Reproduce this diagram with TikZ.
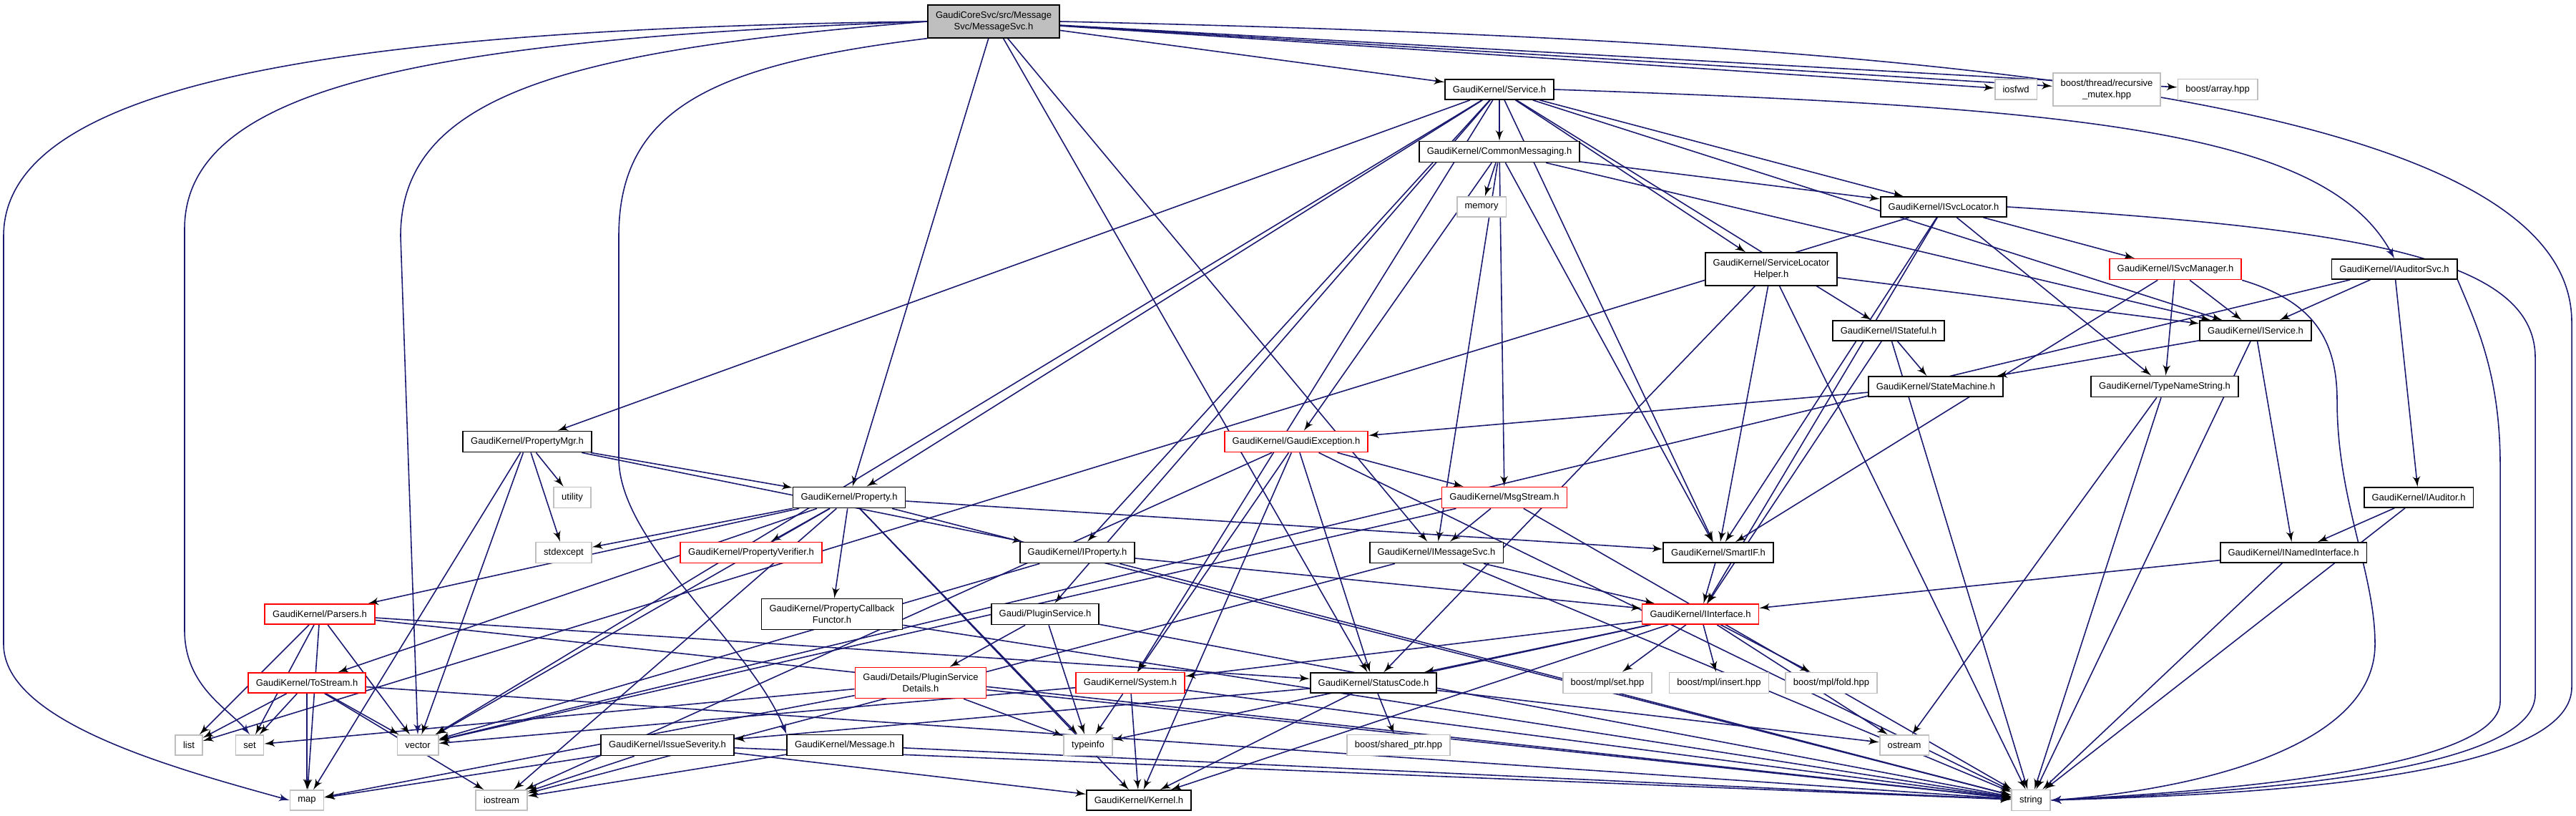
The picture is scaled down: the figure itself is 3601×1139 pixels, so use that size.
\documentclass[tikz,border=0pt]{standalone}
\usepackage{fontspec}
\setmainfont{Liberation Sans}
\usetikzlibrary{arrows,backgrounds}
\definecolor{edgeblue}{RGB}{25,25,112}
\definecolor{leafgray}{RGB}{191,191,191}
\begin{document}
\begin{tikzpicture}[x=0.01cm,y=-0.01cm]
		\tikzset{file/.style = {shape=rectangle,draw=black,fill=white,line width=0.5pt,inner xsep=3.1pt,inner ysep=2.4pt,minimum height=0.28cm,align=center,font=\fontsize{3.7pt}{4.7pt}\selectfont}}
		\tikzset{trunc/.style = {file,draw=red}}
		\tikzset{sys/.style = {file,draw=leafgray}}
		\tikzset{main/.style = {file,fill=leafgray}}
		\tikzset{edge/.style = {->,> = latex',draw=edgeblue,line width=0.45pt}}
		\useasboundingbox (0,0) rectangle (3601,1139);
		% header rows, top to bottom
		\node[main] (msgsvc) at (1389,30) {GaudiCoreSvc/src/Message\\Svc/MessageSvc.h};
		\node[sys] (iosfwd) at (2818,125) {iosfwd};
		\node[sys] (bthread) at (2945,125) {boost/thread/recursive\\\_mutex.hpp};
		\node[sys] (barray) at (3100,125) {boost/array.hpp};
		\node[file] (service) at (2096,125) {GaudiKernel/Service.h};
		\node[file] (commsg) at (2096,212) {GaudiKernel/CommonMessaging.h};
		\node[sys] (memory) at (2071,289) {memory};
		\node[file] (isvcloc) at (2717,289) {GaudiKernel/ISvcLocator.h};
		\node[file] (slhelper) at (2476,376) {GaudiKernel/ServiceLocator\\Helper.h};
		\node[trunc] (isvcmgr) at (3041,376) {GaudiKernel/ISvcManager.h};
		\node[file] (iaudsvc) at (3347,376) {GaudiKernel/IAuditorSvc.h};
		\node[file] (iservice) at (3153,462) {GaudiKernel/IService.h};
		\node[file] (istateful) at (2640,462) {GaudiKernel/IStateful.h};
		\node[file] (statemach) at (2706,540) {GaudiKernel/StateMachine.h};
		\node[file] (typename) at (3026,540) {GaudiKernel/TypeNameString.h};
		\node[trunc] (gexcept) at (1812,617) {GaudiKernel/GaudiException.h};
		\node[file] (propmgr) at (737,617) {GaudiKernel/PropertyMgr.h};
		\node[sys] (utility) at (800,695) {utility};
		\node[file] (iauditor) at (3381,695) {GaudiKernel/IAuditor.h};
		\node[file] (property) at (1187,695) {GaudiKernel/Property.h};
		\node[trunc] (msgstream) at (2103,695) {GaudiKernel/MsgStream.h};
		\node[sys] (stdexcept) at (788,772) {stdexcept};
		\node[trunc] (propverif) at (1050,772) {GaudiKernel/PropertyVerifier.h};
		\node[file] (iproperty) at (1506,772) {GaudiKernel/IProperty.h};
		\node[file] (imsgsvc) at (2008,772) {GaudiKernel/IMessageSvc.h};
		\node[file] (smartif) at (2402,772) {GaudiKernel/SmartIF.h};
		\node[file] (inamed) at (3206,772) {GaudiKernel/INamedInterface.h};
		\node[trunc] (parsers) at (447,858) {GaudiKernel/Parsers.h};
		\node[file] (propcb) at (1163,858) {GaudiKernel/PropertyCallback\\Functor.h};
		\node[file] (plugin) at (1461,858) {Gaudi/PluginService.h};
		\node[trunc] (iinterface) at (2377,858) {GaudiKernel/IInterface.h};
		\node[trunc] (tostream) at (429,954) {GaudiKernel/ToStream.h};
		\node[trunc] (details) at (1287,954) {Gaudi/Details/PluginService\\Details.h};
		\node[trunc] (system) at (1580,954) {GaudiKernel/System.h};
		\node[file] (statuscode) at (1920,954) {GaudiKernel/StatusCode.h};
		\node[sys] (mplset) at (2247,954) {boost/mpl/set.hpp};
		\node[sys] (mplinsert) at (2403,954) {boost/mpl/insert.hpp};
		\node[sys] (mplfold) at (2560,954) {boost/mpl/fold.hpp};
		\node[sys] (list) at (264,1041) {list};
		\node[sys] (set) at (349,1041) {set};
		\node[sys] (vector) at (584,1041) {vector};
		\node[file] (issue) at (933,1041) {GaudiKernel/IssueSeverity.h};
		\node[file] (message) at (1181,1041) {GaudiKernel/Message.h};
		\node[sys] (typeinfo) at (1521,1041) {typeinfo};
		\node[sys] (sharedptr) at (1955,1041) {boost/shared\_ptr.hpp};
		\node[sys] (ostream) at (2662,1041) {ostream};
		\node[sys] (map) at (429,1118) {map};
		\node[sys] (iostream) at (701,1118) {iostream};
		\node[file] (kernel) at (1592,1118) {GaudiKernel/Kernel.h};
		\node[sys] (string) at (2839,1118) {string};
		% include arrows, one path per including file
		\begin{pgfonlayer}{background}
		% the long ones that run round the sides
		\draw[edge] (msgsvc.west) .. controls (500,40) and (5,110) .. (5,330) -- (5,900) .. controls (5,1010) and (250,1075) .. (map.west);
		\draw[edge] (msgsvc.west) .. controls (600,55) and (258,120) .. (258,320) -- (258,880) .. controls (258,960) and (320,990) .. (set.north);
		\draw[edge] (msgsvc.west) .. controls (800,70) and (560,130) .. (560,330) -- (vector.north);
		\draw[edge] (msgsvc.south west) .. controls (1000,90) and (865,150) .. (865,330) -- (865,640) .. controls (865,760) and (1050,900) .. (message.north west);
		\draw[edge] (msgsvc.east) .. controls (2600,55) and (3595,120) .. (3595,450) -- (3595,960) .. controls (3595,1100) and (3050,1112) .. (string.east);
		\draw[edge] (isvcloc.east) .. controls (3300,320) and (3544,360) .. (3544,500) -- (3544,970) .. controls (3544,1090) and (3050,1110) .. (string.east);
		\draw[edge] (iaudsvc.south east) .. controls (3460,450) and (3495,520) .. (3495,650) -- (3495,980) .. controls (3495,1080) and (3050,1108) .. (string.east);
		\draw[edge] (isvcmgr.south east) .. controls (3230,420) and (3267,470) .. (3267,560) .. controls (3267,700) and (3320,800) .. (3320,900) .. controls (3320,1050) and (3050,1105) .. (string.east);
		\draw[edge] (service.east) .. controls (2900,150) and (3250,180) .. (iaudsvc.north);
		\path[edge] (msgsvc) edge (iosfwd) edge (bthread) edge (barray) edge (statuscode) edge (service) edge (imsgsvc) edge (property);
		\path[edge] (service) edge (iservice) edge (isvcloc) edge (slhelper) edge (iproperty) edge (propmgr) edge (property) edge (commsg) edge (smartif) edge (istateful) edge (plugin) edge (system) edge (vector);
		\path[edge] (commsg) edge (gexcept) edge (memory) edge (imsgsvc) edge (msgstream) edge (smartif) edge (isvcloc) edge (iservice);
		\path[edge] (isvcloc) edge (iinterface) edge (smartif) edge (isvcmgr) edge (typename) edge (list);
		\path[edge] (slhelper) edge (iservice) edge (statuscode) edge (smartif) edge (string);
		\path[edge] (isvcmgr) edge (iservice) edge (typename) edge (smartif);
		\path[edge] (iaudsvc) edge (iservice) edge (iauditor) edge (vector);
		\path[edge] (iservice) edge (inamed) edge (statemach) edge (string);
		\path[edge] (istateful) edge (iinterface) edge (statemach) edge (string);
		\path[edge] (statemach) edge (gexcept);
		\path[edge] (typename) edge (string) edge (ostream);
		\path[edge] (iauditor) edge (inamed) edge (string);
		\path[edge] (inamed) edge (iinterface) edge (string);
		\path[edge] (gexcept) edge (msgstream) edge (string) edge (statuscode) edge (system) edge (kernel) edge (iostream);
		\path[edge] (msgstream) edge (imsgsvc) edge (vector) edge (string);
		\path[edge] (imsgsvc) edge (iinterface) edge (string) edge (iostream);
		\path[edge] (smartif) edge (iinterface);
		\path[edge] (iinterface) edge (system) edge (statuscode) edge (kernel) edge (typeinfo) edge (mplset) edge (mplinsert) edge (mplfold) edge (ostream);
		\path[edge] (statuscode) edge (kernel) edge (issue) edge (sharedptr) edge (ostream);
		\path[edge] (system) edge (kernel) edge (typeinfo) edge (string) edge (vector);
		\path[edge] (plugin) edge (details) edge (typeinfo) edge (string);
		\path[edge] (details) edge (set) edge (map) edge (typeinfo) edge (string);
		\path[edge] (propmgr) edge (property) edge (iproperty) edge (utility) edge (stdexcept) edge (map) edge (vector);
		\path[edge] (parsers) edge (statuscode) edge (string) edge (vector) edge (list) edge (set) edge (map);
		\path[edge] (tostream) edge (list) edge (set) edge (map) edge (vector) edge (iostream) edge (string);
		\path[edge] (property) edge (propverif) edge (propcb) edge (parsers) edge (tostream) edge (smartif) edge (stdexcept) edge (typeinfo) edge (string) edge (vector) edge (iostream) edge (kernel);
		\path[edge] (iproperty) edge (iinterface) edge (string) edge (vector);
		\path[edge] (propcb) edge (string);
		\path[edge] (issue) edge (map) edge (iostream) edge (string) edge (kernel);
		\path[edge] (message) edge (string) edge (iostream);
		\end{pgfonlayer}
	\end{tikzpicture}
\end{document}
